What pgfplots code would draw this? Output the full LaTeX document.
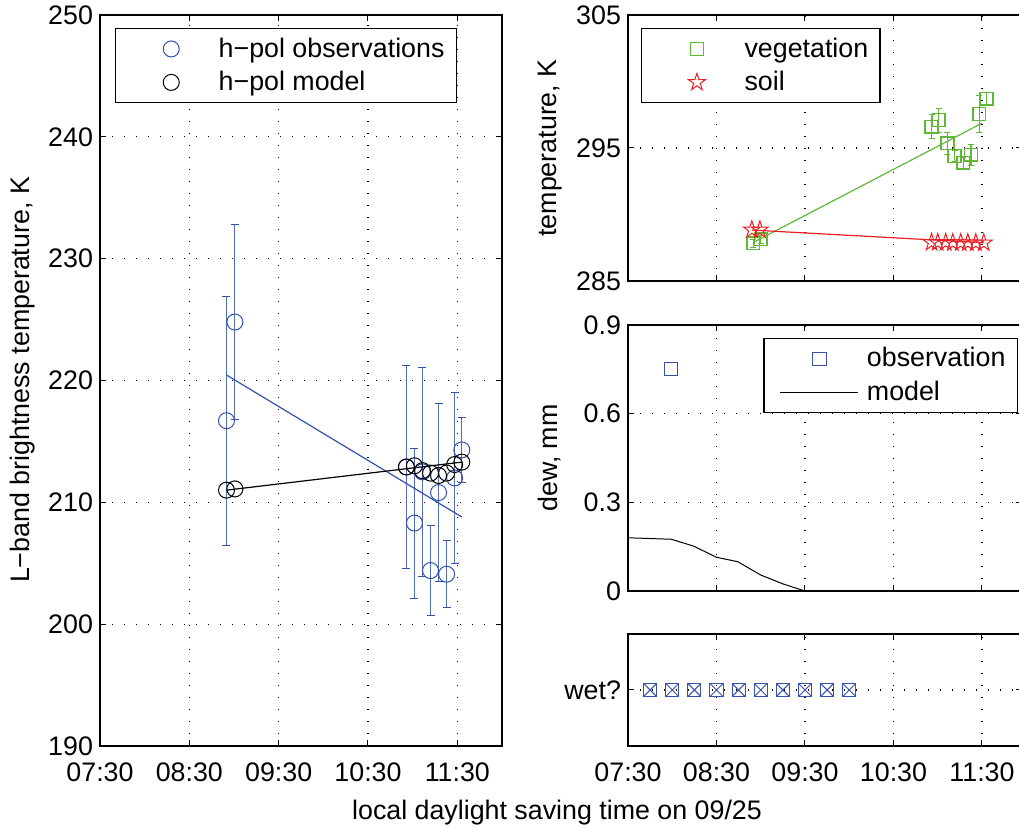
\documentclass[border=0pt]{standalone}
\usepackage{pgfplots}
\pgfplotsset{compat=1.18}
\usepackage{fontspec}
\setmainfont{Liberation Sans}

\definecolor{mblue}{RGB}{52,82,172}
\definecolor{mgreen}{RGB}{95,185,55}
\definecolor{mred}{RGB}{235,30,35}

\newcommand{\fs}{\fontsize{13.4}{15.5}\selectfont}

% MATLAB-like pentagram marker
\pgfdeclareplotmark{pentagram}{%
  \pgfpathmoveto{\pgfqpointpolar{90}{\pgfplotmarksize}}%
  \pgfpathlineto{\pgfqpointpolar{126}{0.382\pgfplotmarksize}}%
  \pgfpathlineto{\pgfqpointpolar{162}{\pgfplotmarksize}}%
  \pgfpathlineto{\pgfqpointpolar{198}{0.382\pgfplotmarksize}}%
  \pgfpathlineto{\pgfqpointpolar{234}{\pgfplotmarksize}}%
  \pgfpathlineto{\pgfqpointpolar{270}{0.382\pgfplotmarksize}}%
  \pgfpathlineto{\pgfqpointpolar{306}{\pgfplotmarksize}}%
  \pgfpathlineto{\pgfqpointpolar{342}{0.382\pgfplotmarksize}}%
  \pgfpathlineto{\pgfqpointpolar{18}{\pgfplotmarksize}}%
  \pgfpathlineto{\pgfqpointpolar{54}{0.382\pgfplotmarksize}}%
  \pgfpathclose
  \pgfusepathqstroke}

\pgfplotsset{
  legimg/.style={legend image code/.code={\path (-4pt,0pt) (41pt,0pt);
      \draw[mark repeat=2,mark phase=2,##1] plot coordinates {(0pt,0pt) (19.5pt,0pt) (39pt,0pt)};}},
  panel/.style={
    scale only axis,
    anchor=north west,
    font=\fs,
    /pgf/number format/assume math mode=true,
    tick label style={font=\fs},
    xticklabel style={yshift=-5pt},
    tick align=inside,
    major tick length=3pt,
    every tick/.style={black, line width=0.5pt},
    axis line style={line width=0.75pt},
    grid=major,
    grid style={black, line width=0.6pt, dash pattern=on 0.6pt off 5.4pt},
    xmin=7.5,
    xtick={7.5,8.5,9.5,10.5,11.5},
    legend cell align=left,
    legend style={draw=black, line width=0.75pt, anchor=north west,
      font=\fs, inner xsep=4pt, inner ysep=2.5pt, row sep=1.5pt},
    legimg,
  }
}

\begin{document}
\begin{tikzpicture}
\useasboundingbox (0pt,0pt) rectangle (509.5pt,-414pt);

% left panel: brightness temperature
\begin{axis}[panel, at={(50pt,-7.5pt)}, width=201pt, height=365.5pt,
  xmax=12, ymin=190, ymax=250, ytick={190,200,...,250},
  xticklabels={07:30,08:30,09:30,10:30,11:30},
  legend style={at={(0,1)}, xshift=7.5pt, yshift=-6.5pt}]
\addlegendimage{only marks, mark=o, mark size=4pt, mblue, line width=0.5pt, legimg}
\addlegendentry{h−pol observations}
\addlegendimage{only marks, mark=o, mark size=4pt, black, line width=0.5pt, legimg}
\addlegendentry{h−pol model}
\addplot[forget plot, only marks, mark=o, mark size=4pt, mblue, line width=0.5pt,
  error bars/.cd, y dir=both, y explicit,
  error bar style={line width=0.6pt, mblue!85},
  error mark options={rotate=90, mark size=2pt, mblue}]
  coordinates {
  (8.916,216.7) +- (0,10.2)
  (9.01,224.8) +- (0,8.0)
  (10.93,212.9) +- (0,8.35)
  (11.02,208.3) +- (0,6.15)
  (11.11,212.5) +- (0,8.6)
  (11.20,204.4) +- (0,3.7)
  (11.29,210.8) +- (0,7.3)
  (11.38,204.1) +- (0,2.75)
  (11.47,212.0) +- (0,7.0)
  (11.55,214.3) +- (0,2.65)
  };
\addplot[forget plot, only marks, mark=o, mark size=4pt, black, line width=0.5pt]
  coordinates {
  (8.916,211.0) (9.01,211.1) (10.93,212.9) (11.02,213.0) (11.11,212.6)
  (11.20,212.4) (11.29,212.2) (11.38,212.4) (11.47,213.1) (11.55,213.3)
  };
\addplot[forget plot, mblue, line width=0.6pt] coordinates {(8.916,220.45) (11.55,208.8)};
\addplot[forget plot, black, line width=0.6pt] coordinates {(8.916,211.0) (11.55,213.3)};
\end{axis}

% right top: temperatures
\begin{axis}[panel, at={(314pt,-7.5pt)}, width=196.9pt, height=133pt,
  xmax=11.95, ymin=285, ymax=305, ytick={285,295,305},
  xticklabels={},
  legend style={at={(0,1)}, xshift=6.3pt, yshift=-6.5pt}]
\addlegendimage{only marks, mark=square, mark size=3.2pt, mgreen, line width=0.6pt, legimg}
\addlegendentry{vegetation}
\addlegendimage{only marks, mark=pentagram, mark size=4.5pt, mred, line width=0.5pt, legimg}
\addlegendentry{soil}
\addplot[forget plot, only marks, mark=square, mark size=3.2pt, mgreen, line width=0.7pt,
  error bars/.cd, y dir=both, y explicit,
  error bar style={line width=0.6pt, mgreen},
  error mark options={rotate=90, mark size=1.5pt, mgreen}]
  coordinates {
  (8.916,287.83) +- (0,0.3)
  (9.0,288.13) +- (0,0.3)
  (10.93,296.6) +- (0,0.9)
  (11.01,297.1) +- (0,0.9)
  (11.11,295.35) +- (0,0.8)
  (11.19,294.4) +- (0,0.4)
  (11.29,293.9) +- (0,0.4)
  (11.375,294.5) +- (0,0.8)
  (11.47,297.56) +- (0,1.4)
  (11.55,298.7) +- (0,0.5)
  };
\addplot[forget plot, only marks, mark=pentagram, mark size=4.5pt, mred, line width=0.5pt]
  coordinates {
  (8.9,288.85) (8.99,288.85) (10.93,287.9) (11.0,287.9) (11.09,287.9) (11.17,287.88)
  (11.26,287.88) (11.34,287.88) (11.43,287.87) (11.52,287.87)
  };
\addplot[forget plot, mgreen, line width=0.6pt] coordinates {(8.916,287.9) (11.5,296.86)};
\addplot[forget plot, mred, line width=0.6pt] coordinates {(8.9,288.83) (11.52,287.88)};
\end{axis}

% right middle: dew
\begin{axis}[panel, at={(314pt,-162.5pt)}, width=196.9pt, height=133pt,
  xmax=11.95, ymin=0, ymax=0.9, ytick={0,0.3,0.6,0.9},
  yticklabels={0,0.3,0.6,0.9}, xticklabels={},
  legend style={at={(0,1)}, xshift=67.6pt, yshift=-6.4pt}]
\addlegendimage{only marks, mark=square, mark size=3.3pt, mblue, line width=0.5pt, legimg}
\addlegendentry{observation}
\addlegendimage{black, line width=0.5pt, legimg}
\addlegendentry{model}
\addplot[forget plot, only marks, mark=square, mark size=3.3pt, mblue, line width=0.5pt]
  coordinates {(7.99,0.751)};
\addplot[forget plot, black, line width=0.5pt] coordinates {
  (7.5,0.18) (7.99,0.175) (8.24,0.152) (8.5,0.114) (8.74,0.099)
  (9.0,0.054) (9.25,0.024) (9.5,0.0) (11.55,0.0)
  };
\end{axis}

% right bottom: wet flag
\begin{axis}[panel, at={(314pt,-317pt)}, width=196.9pt, height=56pt,
  xmax=11.95, ymin=0, ymax=2, ytick={1}, yticklabels={wet?},
  xticklabels={07:30,08:30,09:30,10:30,11:30}]
\addplot[only marks, mark=square, mark size=3.3pt, mblue, line width=0.5pt]
  coordinates {(7.75,1) (8.0,1) (8.25,1) (8.5,1) (8.75,1) (9.0,1) (9.25,1) (9.5,1) (9.75,1) (10.0,1)};
\addplot[only marks, mark=x, mark size=4.5pt, mblue, line width=0.5pt]
  coordinates {(7.75,1) (8.0,1) (8.25,1) (8.5,1) (8.75,1) (9.0,1) (9.25,1) (9.5,1) (9.75,1) (10.0,1)};
\end{axis}

\node[rotate=90, font=\fs] at (11.5pt,-190pt) {L−band brightness temperature, K};
\node[rotate=90, font=\fs] at (275pt,-74pt) {temperature, K};
\node[rotate=90, font=\fs] at (275pt,-229pt) {dew, mm};
\node[font=\fs] at (278.5pt,-406.5pt) {local daylight saving time on 09/25};
\end{tikzpicture}
\end{document}
